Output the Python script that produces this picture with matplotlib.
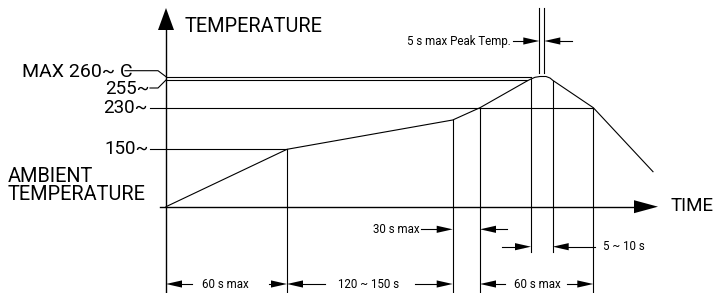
import matplotlib
matplotlib.use("Agg")
import matplotlib.pyplot as plt
from matplotlib.patches import Polygon

plt.rcParams['font.family'] = ['Roboto', 'DejaVu Sans']

# schematic positions (diagram units, y grows downward)
level_names = ['MAX 260~ C', '255~', '230~', '150~']
level_y = [76.7, 80.0, 107.7, 149.3]
level_end = [531, 527, 593.3, 287]
ambient_y = 206.7
axis_x = 166

# reflow profile
profile_x = [166, 287, 452.7, 480, 527, 531, 535, 540, 546, 550, 553, 593.3, 653]
profile_y = [206.7, 149.3, 120, 107.7, 81, 79, 77.3, 76.5, 76.5, 78, 80.5, 107.7, 171.7]

# vertical guide lines: x, top, bottom
guide_x = [287, 452.7, 480, 531, 552.7, 593.3, 539.3, 544.3]
guide_top = [149.3, 120, 107.7, 79, 80.5, 107.7, 8, 8]
guide_bot = [293, 293, 293, 251.7, 251.7, 293, 72.7, 72.7]

# dimension arrows: tip x, tail x, y
dim_tip = [166, 287, 287, 452.7, 480, 593.3, 452.7, 480, 531, 552.7, 539.3, 544.3]
dim_tail = [192, 269, 325, 415, 505, 567, 421, 506.7, 501.7, 595, 513, 571.7]
dim_y = [284, 284, 284, 284, 284, 284, 229.3, 229.3, 246.7, 246.7, 41, 41]

dim_labels = ['60 s max', '120 ~ 150 s', '60 s max', '30 s max', '5 ~ 10 s', '5 s max Peak Temp.']
dim_label_x = [225, 369, 537, 420, 603, 511]
dim_label_y = [284, 284, 284, 229.3, 246.7, 41]
dim_label_ha = ['center', 'center', 'center', 'right', 'left', 'right']

fig = plt.figure(figsize=(7.14, 2.93), dpi=100)
ax = fig.add_axes([0, 0, 1, 1])
ax.set_xlim(0, 714)
ax.set_ylim(293, 0)
ax.axis('off')

lw = 0.8
k = 'black'


def arrow_head(tip_x, tip_y, dx, dy, length, half):
    # filled triangle pointing along (dx, dy)
    bx, by = tip_x - dx * length, tip_y - dy * length
    px, py = -dy * half, dx * half
    ax.add_patch(Polygon([(tip_x, tip_y), (bx + px, by + py), (bx - px, by - py)],
                         closed=True, color=k, lw=0))


# axes
ax.plot([axis_x, axis_x], [28, 293], color=k, lw=1.0)
arrow_head(axis_x, 8, 0, -1, 22, 8)
ax.plot([160, 637], [ambient_y, ambient_y], color=k, lw=1.0)
arrow_head(658, ambient_y, 1, 0, 24, 6.5)

# temperature levels
for i in range(len(level_y)):
    start = axis_x if i < 2 else 150
    ax.plot([start, level_end[i]], [level_y[i], level_y[i]], color=k, lw=lw)

# leaders for 260 and 255
ax.plot([125, 158, axis_x], [70.7, 70.7, level_y[0]], color=k, lw=lw)
ax.plot([150, 158, axis_x], [88, 88, level_y[1]], color=k, lw=lw)

ax.plot(profile_x, profile_y, color=k, lw=lw)

for x, t, b in zip(guide_x, guide_top, guide_bot):
    ax.plot([x, x], [t, b], color=k, lw=lw)

for tip, tail, y in zip(dim_tip, dim_tail, dim_y):
    d = 1 if tip > tail else -1
    ax.plot([tail, tip - d * 8], [y, y], color=k, lw=lw)
    arrow_head(tip, y, d, 0, 16, 3.6)

for s, x, y, ha in zip(dim_labels, dim_label_x, dim_label_y, dim_label_ha):
    ax.text(x, y, s, fontsize=8.3, ha=ha, va='center')

# big labels
ax.text(185, 27, 'TEMPERATURE', fontsize=14.3, va='center', ha='left')
ax.text(22, 72, level_names[0], fontsize=14, va='center', ha='left')
ax.text(150, 89, level_names[1], fontsize=13.5, va='center', ha='right')
ax.text(148, 108, level_names[2], fontsize=13.5, va='center', ha='right')
ax.text(149, 149.5, level_names[3], fontsize=13.5, va='center', ha='right')
ax.text(8, 177, 'AMBIENT', fontsize=14.3, va='center', ha='left')
ax.text(8, 195, 'TEMPERATURE', fontsize=14.3, va='center', ha='left')
ax.text(671, 206, 'TIME', fontsize=13.5, va='center', ha='left')

fig.savefig('out.png', dpi=100)
